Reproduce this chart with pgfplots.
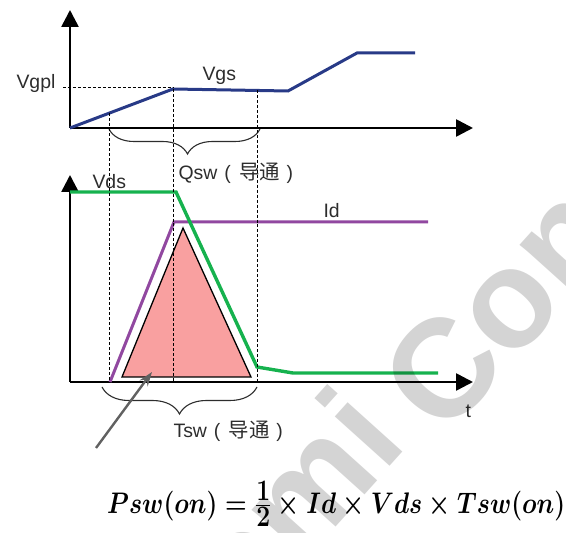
\documentclass[border=0pt]{standalone}
\usepackage{pgfplots}
\pgfplotsset{compat=1.18}
\usepackage{graphicx}
\usepackage{amsmath}
\usepackage{fontspec}
\setmainfont{Liberation Sans}
\newfontfamily\cjk{Noto Sans CJK SC}
\usetikzlibrary{arrows.meta,decorations.pathreplacing}

\definecolor{vgscol}{RGB}{40,58,135}
\definecolor{vdscol}{RGB}{22,178,78}
\definecolor{idcol}{RGB}{145,72,160}
\definecolor{losscol}{RGB}{249,160,160}
\definecolor{txtcol}{RGB}{45,45,45}

% one picture unit = one pixel of the 566x533 reference, y measured upward
\pgfplotsset{
  timing/.style={
    x=1bp, y=1bp, clip=false,
    axis lines=left,
    axis line style={line width=2.6bp, -{Triangle[width=17bp,length=17bp]}},
    xtick=\empty, ytick=\empty,
  },
}
% "( 导通 )" with the spacing of the reference
\newcommand{\cond}{\hspace{7bp}(\hspace{8.5bp}{\cjk\fontsize{20.5}{22}\selectfont 导通}\hspace{6.5bp})}

\begin{document}
\begin{tikzpicture}[font=\fontsize{19.5}{22}\selectfont]
\useasboundingbox (0,0) rectangle (566bp,533bp);

% gate voltage
\begin{axis}[timing, name=gate, at={(70bp,405bp)}, anchor=south west,
  xmin=70, xmax=473, ymin=405, ymax=523]
\addplot[vgscol, line width=3bp] coordinates {
  (70,405) (173,444) (288,442) (357,480) (415,480)};
\draw[densely dashed, thin] (axis cs:63,446) -- (axis cs:173,446);
\node[txtcol, anchor=base west] at (axis cs:13,444) {Vgpl};
\node[txtcol, anchor=base west] at (axis cs:199,452) {Vgs};
\draw[txtcol, line width=1.1bp,
  decorate, decoration={brace, mirror, amplitude=25bp, aspect=0.52}]
  (axis cs:109,404) -- (axis cs:260,404);
\node[txtcol, anchor=base west] at (axis cs:175,353) {Qsw\cond};
\end{axis}

% drain voltage and current
\begin{axis}[timing, name=drain, at={(70bp,151bp)}, anchor=south west,
  xmin=70, xmax=473, ymin=151, ymax=358]
\addplot[draw=black, line width=1.3bp, fill=losscol] coordinates {
  (122,156) (183,305) (251,156)} -- cycle;
\addplot[idcol, line width=3bp] coordinates {
  (110,151) (174,311) (428,311)};
\addplot[vdscol, line width=3.4bp] coordinates {
  (70,341) (176,341) (257,166) (293,160) (438,160)};
\draw[densely dashed, thin] (axis cs:109,420) -- (axis cs:109,151);
\draw[densely dashed, thin] (axis cs:173,444) -- (axis cs:173,151);
\draw[densely dashed, thin] (axis cs:257,443) -- (axis cs:257,151);
\node[txtcol, anchor=base west] at (axis cs:89,344) {Vds};
\node[txtcol, anchor=base west] at (axis cs:320,315) {Id};
\node[txtcol, anchor=base west] at (axis cs:462,115) {t};
\draw[txtcol, line width=1.1bp,
  decorate, decoration={brace, mirror, amplitude=27bp, aspect=0.5}]
  (axis cs:102,146) -- (axis cs:257,146);
\node[txtcol, anchor=base west] at (axis cs:170,95) {Tsw\cond};
\draw[black!62, line width=2.4bp, -{Stealth[length=14bp,width=10bp]}]
  (axis cs:96,85) -- (axis cs:152,161);
\end{axis}

% switching loss
\node[anchor=base west, inner sep=0pt] at (107bp,20bp)
  {\scalebox{1}[1.2]{\resizebox{458bp}{!}{\boldmath$Psw(on) = \genfrac{}{}{}{1}{\textstyle 1}{\textstyle 2}\times Id\times Vds\times Tsw(on)$}}};

% watermark, laid over everything
\begin{scope}[every node/.style={text=black, text opacity=0.17, rotate=48,
    inner sep=0pt, font=\fontsize{140}{140}\selectfont\bfseries}]
\node[anchor=base east] at (410bp,88bp) {Semi};
\node[anchor=base west] at (444bp,93bp) {Con};
\end{scope}
\end{tikzpicture}
\end{document}
